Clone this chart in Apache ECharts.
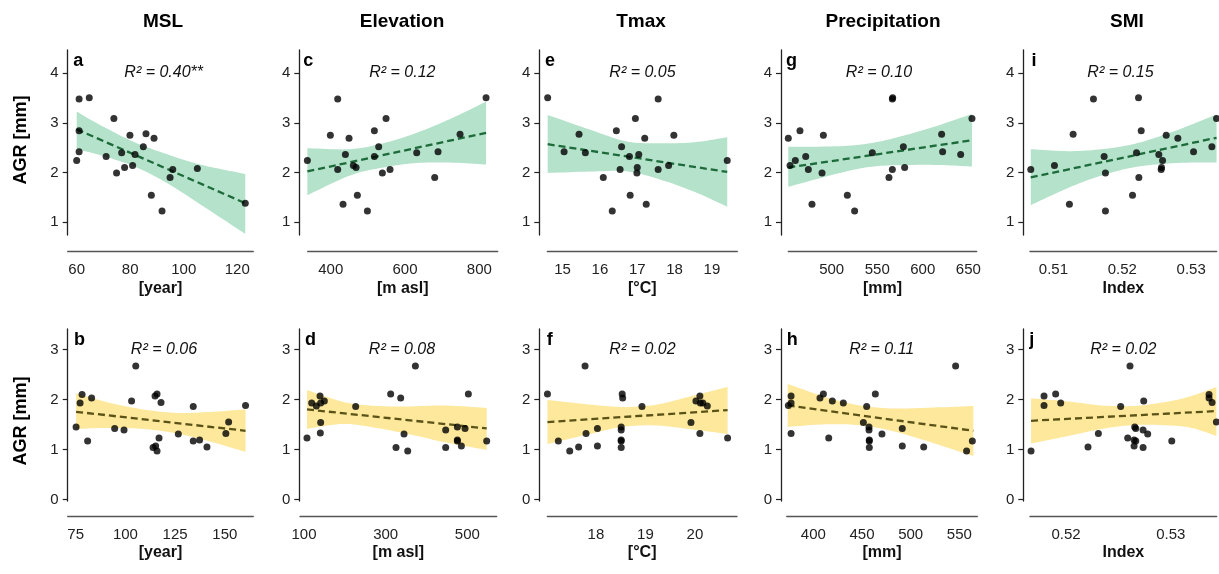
<!DOCTYPE html>
<html>
<head>
<meta charset="utf-8">
<script src="https://cdn.jsdelivr.net/npm/echarts@6/dist/echarts.min.js"></script>
<style>
  html, body { margin: 0; padding: 0; background: #ffffff; }
  #chart { width: 1219px; height: 574px; }
</style>
</head>
<body>
<div id="chart"></div>
<script>
// ---------- data: annual growth rate (AGR, mm) against site drivers ----------
const columnTitles = ['MSL', 'Elevation', 'Tmax', 'Precipitation', 'SMI'];
const xUnits = ['[year]', '[m asl]', '[°C]', '[mm]', 'Index'];
const panelLetters = ['a', 'c', 'e', 'g', 'i', 'b', 'd', 'f', 'h', 'j'];
const r2Labels = ['R² = 0.40**', 'R² = 0.12', 'R² = 0.05', 'R² = 0.10', 'R² = 0.15',
                  'R² = 0.06', 'R² = 0.08', 'R² = 0.02', 'R² = 0.11', 'R² = 0.02'];

const yTicksTop = [1, 2, 3, 4];
const yTicksBottom = [0, 1, 2, 3];
const xTicksA = [60, 80, 100, 120];
const xTicksC = [400, 600, 800];
const xTicksE = [15, 16, 17, 18, 19];
const xTicksG = [500, 550, 600, 650];
const xTicksI = [0.51, 0.52, 0.53];
const xTicksB = [75, 100, 125, 150];
const xTicksD = [100, 300, 500];
const xTicksF = [18, 19, 20];
const xTicksH = [400, 450, 500, 550];
const xTicksJ = [0.52, 0.53];

// (a) MSL, upper group
const ptsA = [[60.9,3.48],[64.7,3.51],[60.0,2.24],[60.9,2.84],[60.9,2.42],[73.9,3.09],[71.0,2.32],[74.9,1.99],[76.8,2.40],[77.9,2.10],[79.9,2.75],[80.9,2.14],[81.8,2.36],[85.9,2.78],[84.9,2.52],[88.9,2.69],[87.9,1.54],[91.9,1.22],[94.9,1.90],[95.9,2.06],[105.1,2.08],[123.0,1.38]];
const fitA = [[60, 2.87], [123, 1.38]];
const bandA = [[60,2.47,3.23],[68.7,2.35,2.96],[81.2,2.13,2.62],[93.6,1.79,2.37],[106.1,1.36,2.16],[123,0.76,1.97]];

// (c) Elevation, upper group
const ptsC = [[337.2,2.24],[399.1,2.75],[418.8,3.48],[418.8,2.06],[433.2,1.36],[439.5,2.36],[449.3,2.69],[461.0,2.14],[468.2,2.10],[471.7,1.54],[498.7,1.22],[517.5,2.84],[517.5,2.32],[529.1,2.52],[539.0,1.99],[548.9,3.09],[559.6,2.06],[631.4,2.40],[679.8,1.90],[688.8,2.42],[748.0,2.77],[818.0,3.51]];
const fitC = [[337.2, 2.02], [818, 2.80]];
const bandC = [[337.2,1.54,2.49],[452,1.94,2.47],[541.7,2.10,2.59],[631.4,2.19,2.80],[721.1,2.20,3.08],[818,2.16,3.43]];

// (e) Tmax, upper group
const ptsE = [[14.6,3.51],[15.04,2.42],[15.44,2.77],[15.61,2.40],[16.09,1.90],[16.33,1.22],[16.44,2.84],[16.54,2.06],[16.58,2.52],[16.79,2.32],[16.81,1.54],[16.95,3.09],[16.99,1.99],[17.0,2.10],[17.04,2.36],[17.2,2.69],[17.24,1.36],[17.56,3.48],[17.56,2.06],[17.84,2.14],[17.98,2.75],[19.41,2.24]];
const fitE = [[14.6, 2.57], [19.41, 2.01]];
const bandE = [[14.6,1.99,3.16],[15.86,2.02,2.83],[16.75,2.02,2.62],[17.64,1.85,2.59],[18.53,1.61,2.61],[19.41,1.31,2.71]];

// (g) Precipitation, upper group
const ptsG = [[452.4,2.69],[454.3,2.14],[460.1,2.24],[465.2,2.84],[471.5,2.32],[474.4,2.06],[478.4,1.36],[489.4,1.99],[490.9,2.75],[517.2,1.54],[525.2,1.22],[544.6,2.40],[562.9,1.90],[566.6,3.48],[567.0,3.51],[566.6,2.06],[578.7,2.52],[580.1,2.10],[620.7,2.77],[621.8,2.42],[641.6,2.36],[654.0,3.09]];
const fitG = [[452.4, 2.10], [654, 2.65]];
const bandG = [[452.4,1.71,2.52],[509.1,1.99,2.53],[545.7,2.12,2.60],[582.3,2.15,2.76],[618.9,2.15,2.96],[654,2.12,3.18]];

// (i) SMI, upper group
const ptsI = [[0.50671,2.06],[0.51015,2.14],[0.51232,1.36],[0.51286,2.77],[0.51581,3.48],[0.51736,2.32],[0.51755,1.99],[0.51755,1.22],[0.52148,1.54],[0.52206,2.40],[0.52235,3.51],[0.5224,1.90],[0.52274,2.84],[0.5253,2.36],[0.52564,2.06],[0.52569,2.10],[0.52584,2.24],[0.52637,2.75],[0.52806,2.69],[0.53034,2.42],[0.533,2.52],[0.53368,3.09]];
const fitI = [[0.50671, 1.90], [0.53368, 2.70]];
const bandI = [[0.50671,1.34,2.47],[0.51218,1.69,2.43],[0.51702,1.94,2.47],[0.52186,2.11,2.58],[0.52671,2.18,2.79],[0.5301,2.20,2.97],[0.53368,2.20,3.17]];

// (b) MSL, lower group
const ptsB = [[75.2,1.45],[77.2,1.93],[78.2,2.10],[81.0,1.17],[83.0,2.03],[94.6,1.42],[99.3,1.39],[103.1,1.97],[105.2,2.67],[113.9,1.04],[114.9,2.07],[115.9,2.11],[115.2,1.07],[115.9,0.97],[116.9,1.23],[117.9,1.94],[126.6,1.31],[134.1,1.86],[134.1,1.17],[137.3,1.19],[141.0,1.05],[150.5,1.32],[151.9,1.55],[160.4,1.88]];
const fitB = [[75.2, 1.753], [160.4, 1.373]];
const bandB = [[75.2,1.41,2.12],[92.3,1.43,1.93],[109,1.41,1.80],[125.8,1.32,1.73],[142.5,1.16,1.75],[160.4,0.95,1.80]];

// (d) Elevation, lower group
const ptsD = [[107.3,1.23],[118.8,1.93],[130.2,1.87],[139.2,2.07],[140.8,1.54],[140.0,1.33],[140.8,1.93],[149.8,1.97],[226.5,1.86],[312.2,2.11],[325.3,1.04],[336.7,2.03],[344.9,1.31],[353.9,0.97],[372.7,2.67],[446.9,1.39],[446.9,1.04],[475.5,1.45],[475.5,1.19],[475.5,1.17],[485.3,1.07],[494.3,1.42],[502.4,2.11],[547.3,1.17]];
const fitD = [[107.3, 1.80], [547.3, 1.42]];
const bandD = [[107.3,1.41,2.19],[196.3,1.51,1.95],[277.6,1.43,1.87],[359.6,1.30,1.86],[441.6,1.15,1.88],[547.3,0.99,1.83]];

// (f) Tmax, lower group
const ptsF = [[17.02,2.11],[17.24,1.17],[17.47,0.97],[17.65,1.05],[17.78,2.67],[17.80,1.32],[18.03,1.42],[18.03,1.07],[18.51,1.04],[18.51,1.19],[18.51,1.17],[18.51,1.39],[18.51,1.45],[18.53,2.11],[18.54,2.03],[18.93,1.86],[19.92,1.54],[20.02,1.97],[20.10,2.07],[20.10,1.32],[20.11,1.93],[20.16,1.93],[20.25,1.87],[20.66,1.23]];
const fitF = [[17.02, 1.547], [20.66, 1.787]];
const bandF = [[17.02,1.11,1.99],[17.845,1.30,1.90],[18.519,1.45,1.85],[19.192,1.48,1.89],[19.865,1.41,2.05],[20.66,1.31,2.25]];

// (h) Precipitation, lower group
const ptsH = [[374.3,1.88],[377.1,1.93],[377.1,2.07],[377.1,1.32],[406.8,2.03],[410.3,2.11],[415.8,1.23],[419.5,1.97],[430.8,1.93],[451.4,1.54],[454.8,1.86],[457.2,1.45],[457.2,1.39],[457.5,1.19],[457.5,1.17],[457.5,1.04],[463.7,2.11],[470.5,1.31],[491.4,1.42],[491.4,1.07],[513.4,1.05],[546.2,2.67],[557.5,0.97],[563.4,1.17]];
const fitH = [[373.6, 1.88], [564.4, 1.373]];
const bandH = [[373.6,1.45,2.31],[410.3,1.50,2.06],[444.5,1.49,1.89],[478.8,1.38,1.82],[513,1.19,1.83],[564.4,0.87,1.87]];

// (j) SMI, lower group
const ptsJ = [[0.51666,0.97],[0.5179,2.07],[0.5179,1.88],[0.51901,2.11],[0.51949,1.93],[0.5221,1.05],[0.52309,1.32],[0.52522,1.86],[0.52589,1.23],[0.52611,2.67],[0.5265,1.19],[0.5265,1.07],[0.52656,1.45],[0.52666,1.42],[0.52666,1.17],[0.52736,1.39],[0.52736,1.04],[0.52742,1.97],[0.5278,1.31],[0.5301,1.17],[0.53366,2.10],[0.53366,2.03],[0.53395,1.94],[0.53436,1.55]];
const fitJ = [[0.51666, 1.573], [0.53436, 1.767]];
const bandJ = [[0.51666,1.12,2.02],[0.52022,1.27,1.96],[0.5234,1.41,1.88],[0.52659,1.49,1.87],[0.52978,1.48,1.96],[0.532,1.43,2.07],[0.53436,1.27,2.25]];

// ---------- panel definitions (x domain of each panel) ----------
const panels = [
  { row: 0, col: 0, pts: ptsA, fit: fitA, band: bandA, xTicks: xTicksA, xMin: 56.64, xMax: 126.0 },
  { row: 0, col: 1, pts: ptsC, fit: fitC, band: bandC, xTicks: xTicksC, xMin: 338.1, xMax: 849.3 },
  { row: 0, col: 2, pts: ptsE, fit: fitE, band: bandE, xTicks: xTicksE, xMin: 14.59, xMax: 19.68 },
  { row: 0, col: 3, pts: ptsG, fit: fitG, band: bandG, xTicks: xTicksG, xMin: 452.4, xMax: 659.2 },
  { row: 0, col: 4, pts: ptsI, fit: fitI, band: bandI, xTicks: xTicksI, xMin: 0.5066, xMax: 0.5337 },
  { row: 1, col: 0, pts: ptsB, fit: fitB, band: bandB, xTicks: xTicksB, xMin: 70.98, xMax: 164.3 },
  { row: 1, col: 1, pts: ptsD, fit: fitD, band: bandD, xTicks: xTicksD, xMin: 90.2, xMax: 571.8 },
  { row: 1, col: 2, pts: ptsF, fit: fitF, band: bandF, xTicks: xTicksF, xMin: 17.017, xMax: 20.85 },
  { row: 1, col: 3, pts: ptsH, fit: fitH, band: bandH, xTicks: xTicksH, xMin: 372.6, xMax: 568.5 },
  { row: 1, col: 4, pts: ptsJ, fit: fitJ, band: bandJ, xTicks: xTicksJ, xMin: 0.51656, xMax: 0.53439 }
];

// ---------- layout ----------
const rows = [
  { top: 50, height: 185, xAxisGap: 16.7, yMin: 0.738, yMax: 4.471, yTicks: yTicksTop,
    letterY: 61.5, r2Y: 72.7, fill: '#b5e2ca', lineColor: '#1d6a3b' },
  { top: 329, height: 172, xAxisGap: 15, yMin: -0.03, yMax: 3.407, yTicks: yTicksBottom,
    letterY: 340, r2Y: 349.5, fill: '#fde89c', lineColor: '#5a5217' }
];
// [grid left, grid right, y-axis x] per panel, same order as `panels`
const boxes = [
  [67.7, 253.3, 67.7], [307.7, 497.7, 299.3], [547.3, 737.3, 539.3], [788.3, 976.7, 781], [1030, 1216.7, 1023.3],
  [67.7, 253.3, 67.7], [300, 496.7, 299.3], [547.3, 737, 539.3], [786.7, 977.3, 781], [1030, 1216.7, 1023.3]
];
const letterX = [73.3, 303.3, 545, 786, 1031.5, 74, 305, 546.7, 786.7, 1029.3];
const r2X = [163.7, 402.3, 642.5, 879, 1120.5, 164, 402, 642.5, 881.7, 1123.3];
const titleX = [163, 402, 641, 883, 1127];

const FONT = '"Liberation Sans", Arial, Helvetica, sans-serif';

// Catmull-Rom sampling of a pixel polyline, so the band edges draw as smooth curves
function smoothEdge(pts, steps) {
  const out = [];
  const n = pts.length;
  for (let k = 0; k < n - 1; k++) {
    const p0 = pts[Math.max(k - 1, 0)], p1 = pts[k], p2 = pts[k + 1], p3 = pts[Math.min(k + 2, n - 1)];
    for (let s = 0; s < steps; s++) {
      const t = s / steps, t2 = t * t, t3 = t2 * t;
      const f = (a, b, c, d) => 0.5 * ((2 * b) + (-a + c) * t + (2 * a - 5 * b + 4 * c - d) * t2 + (-a + 3 * b - 3 * c + d) * t3);
      out.push([f(p0[0], p1[0], p2[0], p3[0]), f(p0[1], p1[1], p2[1], p3[1])]);
    }
  }
  out.push(pts[n - 1]);
  return out;
}

const grids = [], xAxes = [], yAxes = [], series = [], graphics = [];

panels.forEach((p, i) => {
  const r = rows[p.row];
  const [gl, gr, yx] = boxes[i];
  grids.push({ left: gl, top: r.top, width: gr - gl, height: r.height, containLabel: false });

  xAxes.push({
    type: 'value', gridIndex: i, min: p.xMin, max: p.xMax, offset: r.xAxisGap,
    name: xUnits[p.col], nameLocation: 'middle', nameGap: 29,
    nameTextStyle: { fontFamily: FONT, fontWeight: 'bold', fontSize: 16, color: '#111' },
    axisLine: { show: true, onZero: false, lineStyle: { color: '#555', width: 1.3 } },
    axisTick: { show: false, customValues: p.xTicks },
    splitLine: { show: false },
    axisLabel: {
      customValues: p.xTicks, margin: 11, fontFamily: FONT, fontSize: 15, color: '#222',
      formatter: v => (Math.abs(v) < 1 ? v.toFixed(2) : String(v))
    }
  });

  yAxes.push({
    type: 'value', gridIndex: i, min: r.yMin, max: r.yMax, offset: Math.max(0, gl - yx),
    axisLine: { show: true, onZero: false, lineStyle: { color: '#222', width: 1.3 } },
    axisTick: { show: true, length: 5, customValues: r.yTicks, lineStyle: { color: '#222', width: 1.2 } },
    splitLine: { show: false },
    axisLabel: { customValues: r.yTicks, margin: 9, fontFamily: FONT, fontSize: 15, color: '#222' }
  });

  // confidence band drawn as one filled shape between its lower and upper edges
  series.push({
    type: 'custom', xAxisIndex: i, yAxisIndex: i, silent: true, z: 1, clip: false,
    data: [[p.band[0][0], p.band[0][1]]],
    renderItem: (params, api) => {
      const upper = smoothEdge(p.band.map(b => api.coord([b[0], b[2]])), 10);
      const lower = smoothEdge(p.band.map(b => api.coord([b[0], b[1]])), 10).reverse();
      return {
        type: 'polygon',
        shape: { points: upper.concat(lower) },
        style: { fill: r.fill, stroke: null }
      };
    }
  });
  // fitted regression line
  series.push({
    type: 'line', xAxisIndex: i, yAxisIndex: i, symbol: 'none', silent: true, z: 3,
    lineStyle: { color: r.lineColor, width: 2.3, type: [7, 4] },
    data: p.fit
  });
  // observations
  series.push({
    type: 'scatter', xAxisIndex: i, yAxisIndex: i, symbol: 'circle', symbolSize: 7,
    clip: false, silent: true, z: 4,
    itemStyle: { color: '#000' },
    data: p.pts
  });

  graphics.push({
    type: 'text', x: letterX[i], y: r.letterY,
    style: { text: panelLetters[i], font: 'bold 18px ' + FONT, fill: '#000',
             textAlign: 'left', textVerticalAlign: 'middle', align: 'left', verticalAlign: 'middle' }
  });
  graphics.push({
    type: 'text', x: r2X[i], y: r.r2Y,
    style: { text: r2Labels[i], font: 'italic 16px ' + FONT, fill: '#111',
             textAlign: 'center', textVerticalAlign: 'middle', align: 'center', verticalAlign: 'middle' }
  });
});

columnTitles.forEach((t, c) => {
  graphics.push({
    type: 'text', x: titleX[c], y: 22,
    style: { text: t, font: 'bold 19px ' + FONT, fill: '#000',
             textAlign: 'center', textVerticalAlign: 'middle', align: 'center', verticalAlign: 'middle' }
  });
});

[140, 421].forEach(cy => {
  graphics.push({
    type: 'text', x: 21, y: cy, rotation: Math.PI / 2,
    style: { text: 'AGR [mm]', font: 'bold 18px ' + FONT, fill: '#000',
             textAlign: 'center', textVerticalAlign: 'middle', align: 'center', verticalAlign: 'middle' }
  });
});

const chart = echarts.init(document.getElementById('chart'), null, { renderer: 'canvas' });
chart.setOption({
  backgroundColor: '#ffffff',
  animation: false,
  grid: grids,
  xAxis: xAxes,
  yAxis: yAxes,
  series: series,
  graphic: graphics
});
</script>
</body>
</html>
